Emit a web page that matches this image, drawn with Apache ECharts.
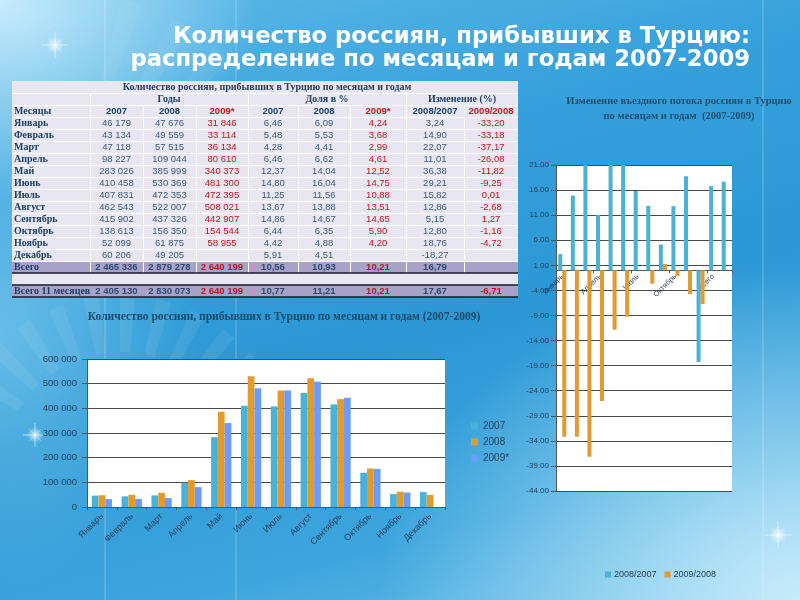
<!DOCTYPE html>
<html><head><meta charset="utf-8">
<script src="https://cdn.jsdelivr.net/npm/echarts/dist/echarts.min.js"></script>
<style>
html,body{margin:0;padding:0;width:800px;height:600px;overflow:hidden;}
body{background:
 radial-gradient(ellipse 260px 200px at 0% 0%, rgba(205,238,252,0.95) 0%, rgba(205,238,252,0) 100%),
 radial-gradient(ellipse 420px 330px at 100% 100%, rgba(200,236,250,0.98) 0%, rgba(200,236,250,0) 100%),
 radial-gradient(ellipse 200px 260px at 0% 55%, rgba(140,210,242,0.6) 0%, rgba(140,210,242,0) 100%),
 linear-gradient(165deg, #5fbbe9 0%, #35a0db 30%, #2b98d5 55%, #3ea6de 80%, #6cc0ea 100%);}
#c{width:800px;height:600px;}
</style></head><body><div id="c"></div>
<script>
// ---------- data ----------
const months = ['Январь','Февраль','Март','Апрель','Май','Июнь','Июль','Август','Сентябрь','Октябрь','Ноябрь','Декабрь'];
const arrivals2007 = [46179,43134,47118,98227,283026,410458,407831,462543,415902,138613,52099,60206];
const arrivals2008 = [47676,49559,57515,109044,385999,530369,472353,522007,437326,156350,61875,49205];
const arrivals2009 = [31846,33114,36134,80610,340373,481300,472395,508021,442907,154544,58955,null];
const share2007 = [6.46,5.48,4.28,6.46,12.37,14.80,11.25,13.67,14.86,6.44,4.42,5.91];
const share2008 = [6.09,5.53,4.41,6.62,14.04,16.04,11.56,13.88,14.67,6.35,4.88,4.51];
const share2009 = [4.24,3.68,2.99,4.61,12.52,14.75,10.88,13.51,14.65,5.90,4.20,null];
const change0807 = [3.24,14.90,22.07,11.01,36.38,29.21,15.82,12.86,5.15,12.80,18.76,-18.27];
const change0908 = [-33.20,-33.18,-37.17,-26.08,-11.82,-9.25,0.01,-2.68,1.27,-1.16,-4.72,null];
const totalRowLabels = ['Всего','Всего 11 месяцев'];
const totalAll = [2465336,2879278,2640199,10.56,10.93,10.21,16.79,null];
const total11 = [2405130,2830073,2640199,10.77,11.21,10.21,17.67,-6.71];
const yearHeaders = ['2007','2008','2009*','2007','2008','2009*','2008/2007','2009/2008'];
const groupHeaders = ['Годы','Доля в %','Изменение (%)'];
const tableTitle = 'Количество россиян, прибывших в Турцию по месяцам и годам';
const rightCategories = months.concat(['Всего','Всего 11 месяцев']);
const rightChange0807 = [3.24,14.90,22.07,11.01,36.38,29.21,15.82,12.86,5.15,12.80,18.76,-18.27,16.79,17.67];
const rightChange0908 = [-33.20,-33.18,-37.17,-26.08,-11.82,-9.25,0.01,-2.68,1.27,-1.16,-4.72,-6.71,null,null];
const leftSeriesNames = ['2007','2008','2009*'];
const rightSeriesNames = ['2008/2007','2009/2008'];
const leftAxisMax = 600000, leftAxisStep = 100000;
const rightAxisMin = -44, rightAxisMax = 21, rightAxisStep = 5;
const mainTitle = ['Количество россиян, прибывших в Турцию:','распределение по месяцам и годам 2007-2009'];
const leftTitle = 'Количество россиян, прибывших в Турцию по месяцам и годам (2007-2009)';
const rightTitle = ['Изменение въездного потока россиян в Турцию','по месяцам и годам  (2007-2009)'];

// ---------- helpers ----------
const fmtInt = v => v == null ? '' : String(v).replace(/\B(?=(\d{3})+(?!\d))/g, ' ');
const fmtDec = v => v == null ? '' : v.toFixed(2).replace('.', ',');
const SERIF = '"Liberation Serif","DejaVu Serif",serif';
const SANS = '"Liberation Sans","DejaVu Sans",sans-serif';
const NAVY = '#1b3f66', NUM = '#3d5a7a', RED = '#c4161c';
const redCols = [2,5,7];

// ---------- table layout ----------
const colEdges = [12, 90, 143, 196, 248, 298, 350, 406, 464, 518];
const tTop = 81, rH = 12, nRows = 18;
const rowY = r => tTop + r * rH;
const g = [];
g.push({type:'rect', shape:{x:colEdges[0], y:tTop, width:colEdges[9]-colEdges[0], height:nRows*rH}, style:{fill:'#e8e6f1'}});
[15,17].forEach(r => g.push({type:'rect', shape:{x:colEdges[0], y:rowY(r), width:colEdges[9]-colEdges[0], height:rH}, style:{fill:'#a9a2c8'}}));
for (let r = 1; r < 16; r++) g.push({type:'line', shape:{x1:colEdges[0], y1:rowY(r)+0.5, x2:colEdges[9], y2:rowY(r)+0.5}, style:{stroke:'#ffffff', lineWidth:1}});
[1,4,7].forEach(c => g.push({type:'line', shape:{x1:colEdges[c]+0.5, y1:rowY(1), x2:colEdges[c]+0.5, y2:rowY(16)}, style:{stroke:'#ffffff', lineWidth:1}}));
[2,3,5,6,8].forEach(c => g.push({type:'line', shape:{x1:colEdges[c]+0.5, y1:rowY(2), x2:colEdges[c]+0.5, y2:rowY(16)}, style:{stroke:'#ffffff', lineWidth:1}}));
[16,17,18].forEach(r => g.push({type:'line', shape:{x1:colEdges[0], y1:rowY(r), x2:colEdges[9], y2:rowY(r)}, style:{stroke:'#1a1a2a', lineWidth:1.3}}));
const cellText = (text, r, c, opt) => {
  opt = opt || {};
  const x = opt.left ? colEdges[0] + 2 : (colEdges[c] + colEdges[c+1]) / 2;
  g.push({type:'text', x:x, y:rowY(r) + rH/2 + 0.5, style:{text:text, fill:opt.color||NUM, font:(opt.bold?'bold ':'') + (opt.size||9.5) + 'px ' + (opt.font||SANS), textAlign:opt.left?'left':'center', textVerticalAlign:'middle'}});
};
g.push({type:'text', x:(colEdges[0]+colEdges[9])/2 + 2, y:rowY(0)+rH/2, style:{text:tableTitle, fill:NAVY, font:'bold 10px '+SERIF, textAlign:'center', textVerticalAlign:'middle'}});
const groupSpans = [[1,4],[4,7],[7,9]];
groupHeaders.forEach((h,i) => g.push({type:'text', x:(colEdges[groupSpans[i][0]]+colEdges[groupSpans[i][1]])/2, y:rowY(1)+rH/2+0.5, style:{text:h, fill:NAVY, font:'bold 10px '+SERIF, textAlign:'center', textVerticalAlign:'middle'}}));
cellText('Месяцы', 2, 0, {left:true, bold:true, font:SERIF, color:NAVY, size:10});
yearHeaders.forEach((h,i) => cellText(h, 2, i+1, {bold:true, color: redCols.includes(i) ? RED : NAVY, size:9.5}));
months.forEach((m,i) => {
  const r = 3 + i;
  cellText(m, r, 0, {left:true, bold:true, font:SERIF, color:NAVY, size:10});
  const vals = [fmtInt(arrivals2007[i]), fmtInt(arrivals2008[i]), fmtInt(arrivals2009[i]), fmtDec(share2007[i]), fmtDec(share2008[i]), fmtDec(share2009[i]), fmtDec(change0807[i]), fmtDec(change0908[i])];
  vals.forEach((v,c) => cellText(v, r, c+1, {color: redCols.includes(c) ? RED : NUM}));
});
[[15,totalAll],[17,total11]].forEach(([r,arr],k) => {
  cellText(totalRowLabels[k], r, 0, {left:true, bold:true, font:SERIF, color:NAVY, size:10});
  arr.forEach((v,c) => cellText(c < 3 ? fmtInt(v) : fmtDec(v), r, c+1, {bold:true, color: redCols.includes(c) ? RED : '#2c4a72'}));
});

// ---------- decorations ----------
const deco = [];
[105, 236, 763].forEach(x => deco.push({type:'line', z:-5, shape:{x1:x, y1:0, x2:x, y2:600}, style:{stroke:'rgba(255,255,255,0.25)', lineWidth:1.2}}));
const rays = (cx, cy, r1, r2, angles, op) => angles.forEach(a => {
  const a1 = a * Math.PI/180, a2 = (a+5) * Math.PI/180;
  deco.push({type:'polygon', z:-5, shape:{points:[[cx+r1*Math.cos(a1), cy+r1*Math.sin(a1)],[cx+r2*Math.cos(a1), cy+r2*Math.sin(a1)],[cx+r2*Math.cos(a2), cy+r2*Math.sin(a2)],[cx+r1*Math.cos(a2), cy+r1*Math.sin(a2)]]}, style:{fill:'rgba(255,255,255,'+op+')'}});
});
rays(120, 470, 118, 175, [-150,-138,-126,-114,-102,-90,-78,-66,-54,-42], 0.07);
rays(60, 230, 150, 240, [-75,-62,-50], 0.05);
const sparkle = (x,y,s) => {
  deco.push({type:'circle', z:-4, shape:{cx:x, cy:y, r:s}, style:{fill:new echarts.graphic.RadialGradient(0.5,0.5,0.5,[{offset:0,color:'rgba(255,255,255,1)'},{offset:0.2,color:'rgba(255,255,255,0.6)'},{offset:1,color:'rgba(255,255,255,0)'}])}});
  [[1.5,0],[0,1.5],[0.8,0.8],[0.8,-0.8]].forEach(([dx,dy],k) => deco.push({type:'line', z:-4, shape:{x1:x-dx*s, y1:y-dy*s, x2:x+dx*s, y2:y+dy*s}, style:{stroke:'rgba(255,255,255,'+(k<2?0.65:0.35)+')', lineWidth:0.8}}));
};
sparkle(55, 45, 9);
sparkle(35, 435, 8);
sparkle(778, 535, 9);

// titles
const titleFont = 'bold 22.7px "DejaVu Sans",sans-serif';
deco.push({type:'text', x:750, y:37, style:{text:mainTitle[0], fill:'#ffffff', font:titleFont, textAlign:'right', textVerticalAlign:'middle'}});
deco.push({type:'text', x:750, y:60, style:{text:mainTitle[1], fill:'#ffffff', font:titleFont, textAlign:'right', textVerticalAlign:'middle'}});
deco.push({type:'text', x:284, y:317, style:{text:leftTitle, fill:'#1a4a6a', font:'bold 11.5px '+SERIF, textAlign:'center', textVerticalAlign:'middle'}});
deco.push({type:'text', x:679, y:101, style:{text:rightTitle[0], fill:'#1f4e6e', font:'bold 10.5px '+SERIF, textAlign:'center', textVerticalAlign:'middle'}});
deco.push({type:'text', x:679, y:116, style:{text:rightTitle[1], fill:'#1f4e6e', font:'bold 10.5px '+SERIF, textAlign:'center', textVerticalAlign:'middle'}});

// right grid geometry; category axis drawn at value 0
const rGrid = {left:556, top:165, width:176, height:326};
const zeroOffset = -rGrid.height * (0 - rightAxisMin) / (rightAxisMax - rightAxisMin);

const chart = echarts.init(document.getElementById('c'), null, {renderer:'canvas'});
const axisTxt = '#1d3c58';
chart.setOption({
  backgroundColor:'transparent',
  animation:false,
  graphic: deco.concat(g),
  legend:[
    {data:leftSeriesNames, orient:'vertical', left:466, top:416, itemWidth:7, itemHeight:7, itemGap:6, icon:'rect', textStyle:{fontSize:10, color:axisTxt, fontFamily:SANS}},
    {data:rightSeriesNames, orient:'horizontal', left:600, top:565, itemWidth:6, itemHeight:6, itemGap:8, icon:'rect', textStyle:{fontSize:9, color:axisTxt, fontFamily:SANS, padding:[0,0,0,-2]}}
  ],
  grid:[
    {left:87, top:359, width:358, height:148, show:true, backgroundColor:'#ffffff', borderWidth:0},
    Object.assign({show:true, backgroundColor:'#ffffff', borderWidth:0}, rGrid)
  ],
  xAxis:[
    {type:'category', gridIndex:0, data:months, axisLine:{lineStyle:{color:'#555'}}, axisTick:{show:true, length:3, lineStyle:{color:'#555'}},
     axisLabel:{rotate:45, fontSize:9, color:axisTxt, fontFamily:SANS, margin:8, interval:0}},
    {type:'category', gridIndex:1, data:rightCategories, position:'bottom', offset:zeroOffset,
     axisLine:{onZero:false, lineStyle:{color:'#555'}}, axisTick:{show:true, length:3, lineStyle:{color:'#555'}},
     axisLabel:{rotate:45, fontSize:7.5, color:axisTxt, fontFamily:SANS, margin:5, interval:2}}
  ],
  yAxis:[
    {type:'value', gridIndex:0, min:0, max:leftAxisMax, interval:leftAxisStep, axisLine:{show:true, lineStyle:{color:'#555'}}, axisTick:{show:true, length:5, lineStyle:{color:'#555'}},
     splitLine:{lineStyle:{color:'#4a4a4a'}}, axisLabel:{fontSize:9.5, color:axisTxt, fontFamily:SANS, margin:10, formatter:v => fmtInt(v)}},
    {type:'value', gridIndex:1, min:rightAxisMin, max:rightAxisMax, interval:rightAxisStep, axisLine:{show:true, lineStyle:{color:'#555'}}, axisTick:{show:true, length:5, lineStyle:{color:'#555'}},
     splitLine:{lineStyle:{color:'#4a4a4a'}}, axisLabel:{fontSize:8, color:axisTxt, fontFamily:SANS, margin:7, formatter:v => v.toFixed(2)}}
  ],
  series:[
    {name:leftSeriesNames[0], type:'bar', xAxisIndex:0, yAxisIndex:0, data:arrivals2007, itemStyle:{color:'#48b2d8'}, barGap:'0%', barCategoryGap:'32%'},
    {name:leftSeriesNames[1], type:'bar', xAxisIndex:0, yAxisIndex:0, data:arrivals2008, itemStyle:{color:'#e39a2c'}},
    {name:leftSeriesNames[2], type:'bar', xAxisIndex:0, yAxisIndex:0, data:arrivals2009, itemStyle:{color:'#6b9cf7'}},
    {name:rightSeriesNames[0], type:'bar', xAxisIndex:1, yAxisIndex:1, data:rightChange0807, itemStyle:{color:'#49b2d6'}, barGap:'0%', barCategoryGap:'36%', clip:true},
    {name:rightSeriesNames[1], type:'bar', xAxisIndex:1, yAxisIndex:1, data:rightChange0908, itemStyle:{color:'#e09b35'}, clip:true}
  ]
});
</script></body></html>
